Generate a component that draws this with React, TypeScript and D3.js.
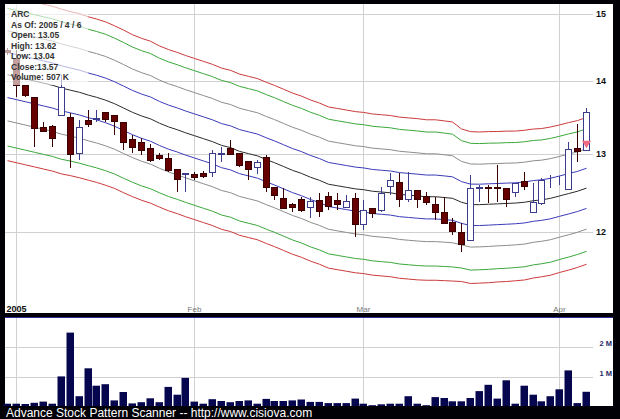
import React from 'react';
import * as d3 from 'd3';

const DATES = [
  '2004-12-31',
  '2005-01-03','2005-01-04','2005-01-05','2005-01-06','2005-01-07','2005-01-10','2005-01-11','2005-01-12','2005-01-13','2005-01-14',
  '2005-01-18','2005-01-19','2005-01-20','2005-01-21','2005-01-24','2005-01-25','2005-01-26','2005-01-27','2005-01-28','2005-01-31',
  '2005-02-01','2005-02-02','2005-02-03','2005-02-04','2005-02-07','2005-02-08','2005-02-09','2005-02-10','2005-02-11','2005-02-14',
  '2005-02-15','2005-02-16','2005-02-17','2005-02-18','2005-02-22','2005-02-23','2005-02-24','2005-02-25','2005-02-28',
  '2005-03-01','2005-03-02','2005-03-03','2005-03-04','2005-03-07','2005-03-08','2005-03-09','2005-03-10','2005-03-11','2005-03-14',
  '2005-03-15','2005-03-16','2005-03-17','2005-03-18','2005-03-21','2005-03-22','2005-03-23','2005-03-24','2005-03-28','2005-03-29',
  '2005-03-30','2005-03-31',
  '2005-04-01','2005-04-04','2005-04-05','2005-04-06',
];

const OPEN = [
  14.45,
  14.33, 13.94, 13.77, 13.36, 13.37, 13.52, 13.50, 13.01, 13.45, 13.47,
  13.56, 13.52, 13.43, 13.20, 13.16, 13.08, 12.98, 12.94, 12.80, 12.73,
  12.73, 12.74, 12.76, 13.00, 13.08, 13.01, 12.90, 12.82, 12.95, 12.56,
  12.42, 12.35, 12.41, 12.31, 12.40, 12.45, 12.40, 12.31, 12.42,
  12.10, 12.30, 12.27, 12.58, 12.63, 12.41, 12.53, 12.45, 12.35, 12.25,
  12.12, 12.00, 11.90, 12.55, 12.56, 12.56, 12.55, 12.50, 12.64, 12.25,
  12.36, 12.65,
  12.65, 12.54, 13.08, 13.05,
];
const HIGH = [
  14.48,
  14.45, 13.95, 13.77, 13.43, 13.38, 14.09, 13.55, 13.45, 13.59, 13.59,
  13.56, 13.52, 13.43, 13.25, 13.21, 13.13, 13.01, 13.01, 12.80, 12.75,
  12.76, 12.77, 13.05, 13.09, 13.18, 13.01, 12.90, 12.92, 12.98, 12.56,
  12.55, 12.36, 12.44, 12.44, 12.49, 12.50, 12.49, 12.46, 12.49,
  12.40, 12.30, 12.56, 12.75, 12.75, 12.76, 12.53, 12.50, 12.44, 12.44,
  12.17, 12.11, 12.72, 12.59, 12.59, 12.85, 12.55, 12.62, 12.76, 12.62,
  12.68, 12.72,
  12.71, 13.16, 13.40, 13.62,
];
const LOW = [
  14.38,
  13.77, 13.78, 13.09, 13.29, 13.09, 13.52, 12.81, 12.92, 13.36, 13.43,
  13.43, 13.25, 13.05, 13.01, 12.98, 12.89, 12.92, 12.76, 12.50, 12.50,
  12.65, 12.68, 12.69, 12.89, 12.99, 12.82, 12.65, 12.73, 12.50, 12.40,
  12.30, 12.25, 12.25, 12.17, 12.18, 12.27, 12.27, 12.30, 11.94,
  12.02, 12.17, 12.25, 12.46, 12.31, 12.37, 12.30, 12.34, 12.15, 12.11,
  11.96, 11.76, 11.90, 12.37, 12.36, 12.37, 12.31, 12.44, 12.53, 12.24,
  12.34, 12.55,
  12.59, 12.53, 12.89, 13.04,
];
const CLOSE = [
  14.42,
  13.94, 13.80, 13.35, 13.30, 13.21, 13.92, 12.99, 13.36, 13.40, 13.48,
  13.47, 13.44, 13.16, 13.09, 13.05, 12.92, 12.94, 12.78, 12.67, 12.74,
  12.69, 12.71, 13.01, 13.01, 12.99, 12.85, 12.80, 12.89, 12.56, 12.46,
  12.30, 12.31, 12.27, 12.39, 12.26, 12.32, 12.35, 12.39, 12.10,
  12.27, 12.24, 12.49, 12.65, 12.41, 12.53, 12.41, 12.37, 12.25, 12.11,
  12.01, 11.85, 12.55, 12.56, 12.55, 12.55, 12.41, 12.62, 12.58, 12.37,
  12.65, 12.66,
  12.66, 13.06, 13.03, 13.57,
];
// volume in millions of shares
const VOLUME_M = [
  0.11,
  0.11, 0.10, 0.14, 0.18, 0.11, 1.02, 2.48, 0.36, 1.29, 0.71,
  0.76, 0.22, 0.50, 0.12, 0.16, 0.29, 0.16, 0.67, 0.41, 0.97,
  0.18, 0.11, 0.26, 0.20, 0.16, 0.20, 0.22, 0.11, 0.27, 0.20,
  0.20, 0.22, 0.25, 0.17, 0.17, 0.13, 0.13, 0.13, 0.28,
  0.11, 0.06, 0.09, 0.11, 0.11, 0.36, 0.11, 0.06, 0.33, 0.30,
  0.19, 0.19, 0.30, 0.53, 0.74, 0.28, 0.89, 0.11, 0.71, 0.41,
  0.19, 0.36,
  0.59, 1.22, 0.13, 0.507,
];
// centre moving average of the band system
const CENTER = [
  14.09,
  14.06, 14.03, 14.00, 13.97, 13.94, 13.90, 13.87, 13.84, 13.80, 13.77,
  13.73, 13.68, 13.62, 13.56, 13.51, 13.47, 13.41, 13.36, 13.32, 13.28,
  13.24, 13.20, 13.16, 13.11, 13.08, 13.03, 13.00, 12.97, 12.92, 12.88,
  12.83, 12.78, 12.74, 12.69, 12.65, 12.60, 12.58, 12.56, 12.54,
  12.53, 12.51, 12.50, 12.49, 12.47, 12.46, 12.45, 12.44, 12.44, 12.43,
  12.42, 12.37, 12.34, 12.34, 12.345, 12.35, 12.355, 12.36, 12.37, 12.39,
  12.40, 12.42,
  12.45, 12.48, 12.51, 12.55,
];
// band unit width, percent of the centre line
const SIGMA_PCT = [
  2.30,
  2.30, 2.30, 2.30, 2.30, 2.30, 2.30, 2.29, 2.29, 2.28, 2.28,
  2.28, 2.27, 2.27, 2.26, 2.26, 2.26, 2.25, 2.25, 2.25, 2.25,
  2.25, 2.25, 2.25, 2.25, 2.25, 2.25, 2.25, 2.25, 2.25, 2.25,
  2.25, 2.25, 2.25, 2.25, 2.25, 2.25, 2.25, 2.25, 2.25,
  2.25, 2.25, 2.25, 2.25, 2.25, 2.25, 2.25, 2.24, 2.24, 2.23,
  2.22, 2.13, 2.12, 2.11, 2.11, 2.10, 2.10, 2.09, 2.09, 2.08,
  2.07, 2.07,
  2.06, 2.06, 2.05, 2.05,
];
const BAND_MULTS = [1, 2, 3.05, 3.65];
const BAND_COLORS = ['#3b3bb8', '#8c8c8c', '#3aa83a', '#cc3a3a'];

const PRICE_TICKS = [12, 13, 14, 15];
const VOLUME_TICKS = [1, 2];
const VOLUME_TICK_LABELS = ['1 M', '2 M'];
const MONTH_TICK_DATES = ['2005-01-03', '2005-02-01', '2005-03-01', '2005-04-01'];
const MONTH_TICK_LABELS = ['2005', 'Feb', 'Mar', 'Apr'];
const LEGEND_LINES = ['ARC', 'As Of: 2005 / 4 / 6', 'Open: 13.05', 'High: 13.62', 'Low: 13.04', 'Close:13.57', 'Volume: 507 K'];
const FOOTER = 'Advance Stock Pattern Scanner -- http://www.cisiova.com';
const SIGNAL_DATES = ['2005-04-06'];

const FONT = 'Liberation Sans, Arial, Helvetica, sans-serif';

export default function App() {
  const W = 620, H = 419;
  const P = { left: 5, right: 613, top: 4, bottom: 313 };
  const V = { top: 318, bottom: 406 };

  const step = 8.9;
  const x = d3.scaleBand<string>()
    .domain(DATES)
    .range([3.5, 3.5 + step * DATES.length])
    .paddingInner(0.21)
    .paddingOuter(0.105);
  const bw = 7;
  const left = (d: string) => Math.round((x(d) as number) + x.bandwidth() / 2 - bw / 2);
  const cx = (d: string) => left(d) + 3.5;

  const y = d3.scaleLog().domain([12, 15]).range([232, 13.5]);
  const vy = d3.scaleLinear().domain([0, 3]).range([407, 317]);

  const line = d3.line<number>()
    .x((_, i) => cx(DATES[i]))
    .y((v) => y(v));

  const bandLines: { d: string; color: string }[] = [];
  BAND_MULTS.forEach((m, k) => {
    bandLines.push({ d: line(CENTER.map((c, i) => c * (1 + m * SIGMA_PCT[i] / 100))) as string, color: BAND_COLORS[k] });
    bandLines.push({ d: line(CENTER.map((c, i) => c * (1 - m * SIGMA_PCT[i] / 100))) as string, color: BAND_COLORS[k] });
  });

  return (
    <svg width={W} height={H} style={{ position: 'absolute', left: 0, top: 0, display: 'block' }}
      xmlns="http://www.w3.org/2000/svg">
      <defs>
        <clipPath id="pclip">
          <rect x={P.left} y={P.top} width={P.right - P.left} height={P.bottom - P.top} />
        </clipPath>
      </defs>
      <rect x={0} y={0} width={W} height={H} fill="#000006" />
      <rect x={P.left} y={P.top} width={P.right - P.left} height={P.bottom - P.top} fill="#ffffff" />
      <rect x={P.left} y={V.top} width={P.right - P.left} height={V.bottom - V.top} fill="#ffffff" />
      <line x1={P.left} x2={P.right} y1={V.top - 0.5} y2={V.top - 0.5} stroke="#2a2a9a" strokeWidth={1} />

      {PRICE_TICKS.map((t) => (
        <line key={'pg' + t} x1={P.left} x2={593} y1={Math.round(y(t)) + 0.5} y2={Math.round(y(t)) + 0.5}
          stroke="#d0d0d0" strokeWidth={1} />
      ))}
      {MONTH_TICK_DATES.map((d) => (
        <line key={'mg' + d} x1={cx(d)} x2={cx(d)} y1={P.top} y2={P.bottom} stroke="#d0d0d0" strokeWidth={1} />
      ))}
      {VOLUME_TICKS.map((t) => (
        <line key={'vg' + t} x1={P.left} x2={593} y1={Math.round(vy(t)) + 0.5} y2={Math.round(vy(t)) + 0.5}
          stroke="#d0d0d0" strokeWidth={1} />
      ))}
      {MONTH_TICK_DATES.map((d) => (
        <line key={'vmg' + d} x1={cx(d)} x2={cx(d)} y1={V.top} y2={V.bottom} stroke="#d0d0d0" strokeWidth={1} />
      ))}

      <g clipPath="url(#pclip)">
        {bandLines.map((b, i) => (
          <path key={'bl' + i} d={b.d} fill="none" stroke={b.color} strokeWidth={1} />
        ))}
        <path d={line(CENTER) as string} fill="none" stroke="#2a2a2a" strokeWidth={1} />

        {DATES.map((d, i) => {
          const o = OPEN[i], c = CLOSE[i], h = HIGH[i], l = LOW[i];
          const up = c >= o;
          const x0 = left(d);
          const top = Math.round(y(Math.max(o, c)));
          const bot = Math.round(y(Math.min(o, c)));
          const hh = Math.max(bot - top, 0);
          const wickColor = up ? '#3c3c8c' : '#3a0000';
          return (
            <g key={'c' + d}>
              <line x1={x0 + 3.5} x2={x0 + 3.5} y1={Math.round(y(h))} y2={Math.round(y(l))} stroke={wickColor} strokeWidth={1} />
              <rect x={x0 + 0.5} y={top + 0.5} width={bw - 1} height={hh}
                fill={up ? '#ffffff' : '#660000'} stroke={up ? '#3c3c8c' : '#3a0000'} strokeWidth={1} />
            </g>
          );
        })}
        {SIGNAL_DATES.map((d) => {
          const i = DATES.indexOf(d);
          const yb = y(Math.min(OPEN[i], CLOSE[i]));
          const c = cx(d);
          return (
            <path key={'sig' + d} d={`M${c - 4.5},${yb - 9} L${c + 4.5},${yb - 9} L${c},${yb - 1.5} Z`} fill="#f06a80" />
          );
        })}
      </g>

      {DATES.map((d, i) => (
        <rect key={'v' + d} x={left(d) - 0.5} y={vy(VOLUME_M[i])} width={bw + 0.5} height={vy(0) - vy(VOLUME_M[i])}
          fill="#06064e" />
      ))}

      <rect x={0} y={P.bottom} width={W} height={V.top - P.bottom - 1} fill="#000006" />
      <rect x={0} y={V.bottom} width={W} height={H - V.bottom} fill="#000006" />

      <rect x={P.left} y={P.top} width={83} height={81} fill="#ffffff" fillOpacity={0.62} />
      {LEGEND_LINES.map((t, i) => (
        <text key={'lg' + i} x={11} y={17.3 + i * 10.5} fontFamily={FONT} fontSize={8.5} fontWeight="bold" fill="#333333">{t}</text>
      ))}

      {PRICE_TICKS.map((t) => (
        <text key={'pl' + t} x={596} y={y(t) + 3.3} fontFamily={FONT} fontSize={9} fontWeight="bold" fill="#111111">{t}</text>
      ))}
      {VOLUME_TICKS.map((t, i) => (
        <text key={'vl' + t} x={612} y={vy(t) - 1.5} textAnchor="end" fontFamily={FONT} fontSize={7.5} fontWeight="bold" fill="#2a2a6a">{VOLUME_TICK_LABELS[i]}</text>
      ))}
      {MONTH_TICK_DATES.map((d, i) => (
        <text key={'ml' + d} x={cx(d)} y={312} textAnchor="middle" fontFamily={FONT}
          fontSize={i === 0 ? 9 : 8} fontWeight={i === 0 ? 'bold' : 'normal'} fill={i === 0 ? '#111111' : '#777777'}>
          {MONTH_TICK_LABELS[i]}
        </text>
      ))}
      <text x={6} y={417} fontFamily={FONT} fontSize={12} fill="#ffffff">{FOOTER}</text>
    </svg>
  );
}
